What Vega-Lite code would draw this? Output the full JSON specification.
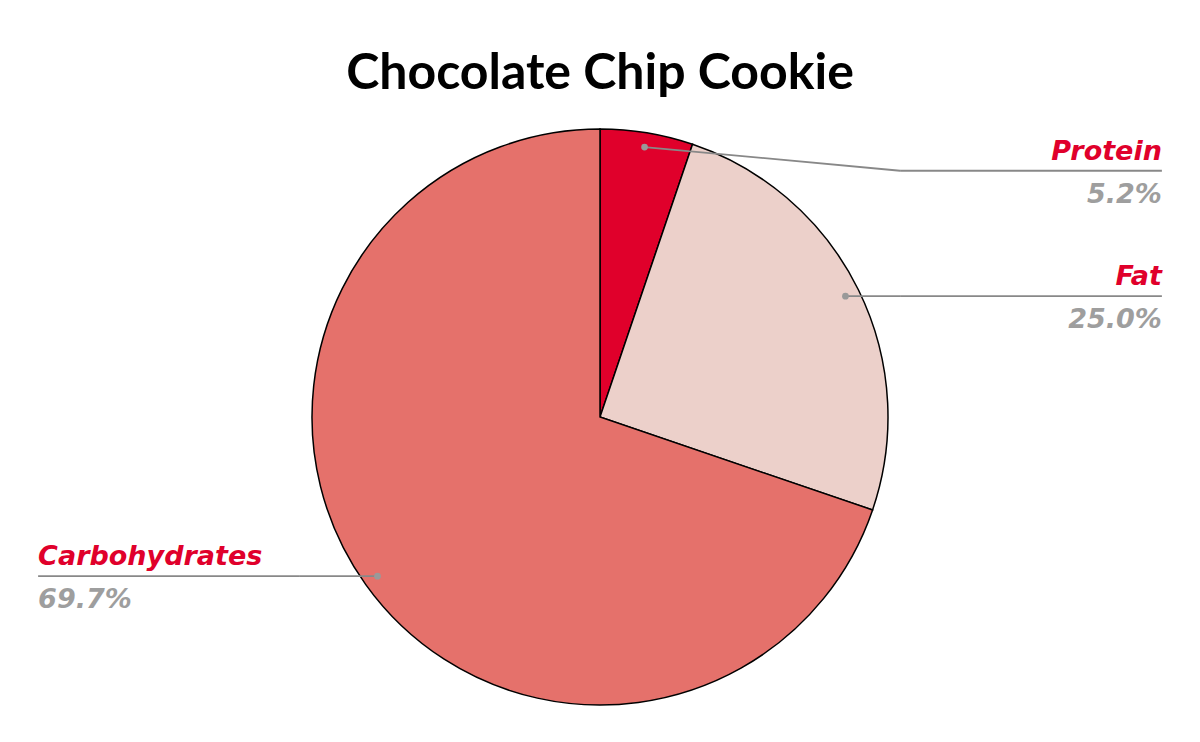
{
  "$schema": "https://vega.github.io/schema/vega-lite/v6.json",
  "width": 1200,
  "height": 742,
  "autosize": {"type": "fit", "contains": "padding"},
  "padding": {"top": 49, "left": 0, "right": 0, "bottom": 8},
  "background": "white",
  "title": {
    "text": "Chocolate Chip Cookie",
    "font": "Comic Sans MS, Lato",
    "fontSize": 50,
    "fontWeight": "bold",
    "color": "black",
    "anchor": "middle",
    "offset": 1
  },
  "config": {"view": {"stroke": null}},
  "data": {
    "values": [
      {"name": "Protein", "share": 0.052, "rank": 1},
      {"name": "Fat", "share": 0.25, "rank": 2},
      {"name": "Carbohydrates", "share": 0.697, "rank": 3}
    ]
  },
  "transform": [
    {"joinaggregate": [{"op": "sum", "field": "share", "as": "total"}]},
    {"window": [{"op": "sum", "field": "share", "as": "cum"}], "sort": [{"field": "rank"}], "frame": [null, 0]},
    {"calculate": "2*PI*(datum.cum - datum.share/2)/datum.total", "as": "mid"},
    {"calculate": "0.95*sin(datum.mid)", "as": "dotX"},
    {"calculate": "0.95*cos(datum.mid)", "as": "dotY"},
    {"calculate": "datum.dotX >= 0 ? 1 : -1", "as": "side"},
    {"calculate": "min(datum.dotY, 0.855)", "as": "lineY"},
    {"calculate": "datum.side*1.042", "as": "bendX"},
    {"calculate": "datum.side*1.951", "as": "endX"}
  ],
  "layer": [
    {
      "mark": {"type": "arc", "outerRadius": 288, "stroke": "black", "strokeWidth": 1.5},
      "encoding": {
        "theta": {"field": "share", "type": "quantitative", "stack": true},
        "order": {"field": "rank"},
        "color": {
          "field": "name",
          "type": "nominal",
          "scale": {"domain": ["Protein", "Fat", "Carbohydrates"], "range": ["#e0002b", "#ecd0ca", "#e5716b"]},
          "legend": null
        },
        "x": {"datum": 0, "type": "quantitative", "axis": null,
              "scale": {"domainMin": {"expr": "-width/2/288"}, "domainMax": {"expr": "width/2/288"}, "nice": false, "zero": false}},
        "y": {"datum": 0, "type": "quantitative", "axis": null,
              "scale": {"domainMin": {"expr": "-height/2/288"}, "domainMax": {"expr": "height/2/288"}, "nice": false, "zero": false}}
      }
    },
    {
      "mark": {"type": "rule", "color": "#888888", "strokeWidth": 1.8},
      "encoding": {
        "x": {"field": "dotX", "type": "quantitative", "axis": null},
        "y": {"field": "dotY", "type": "quantitative", "axis": null},
        "x2": {"field": "bendX"},
        "y2": {"field": "lineY"}
      }
    },
    {
      "mark": {"type": "rule", "color": "#888888", "strokeWidth": 1.8},
      "encoding": {
        "x": {"field": "bendX", "type": "quantitative", "axis": null},
        "y": {"field": "lineY", "type": "quantitative", "axis": null},
        "x2": {"field": "endX"}
      }
    },
    {
      "mark": {"type": "point", "filled": true, "color": "#999999", "size": 45, "opacity": 1},
      "encoding": {
        "x": {"field": "dotX", "type": "quantitative", "axis": null},
        "y": {"field": "dotY", "type": "quantitative", "axis": null}
      }
    },
    {
      "transform": [{"filter": "datum.side > 0"}],
      "mark": {"type": "text", "align": "right", "baseline": "alphabetic", "dy": -11, "font": "DejaVu Sans", "fontSize": 27, "fontWeight": "bold", "fontStyle": "italic", "color": "#e0002b"},
      "encoding": {
        "x": {"field": "endX", "type": "quantitative", "axis": null},
        "y": {"field": "lineY", "type": "quantitative", "axis": null},
        "text": {"field": "name"}
      }
    },
    {
      "transform": [{"filter": "datum.side < 0"}],
      "mark": {"type": "text", "align": "left", "baseline": "alphabetic", "dy": -11, "font": "DejaVu Sans", "fontSize": 27, "fontWeight": "bold", "fontStyle": "italic", "color": "#e0002b"},
      "encoding": {
        "x": {"field": "endX", "type": "quantitative", "axis": null},
        "y": {"field": "lineY", "type": "quantitative", "axis": null},
        "text": {"field": "name"}
      }
    },
    {
      "transform": [{"filter": "datum.side > 0"}],
      "mark": {"type": "text", "align": "right", "baseline": "alphabetic", "dy": 32, "font": "DejaVu Sans", "fontSize": 27, "fontWeight": "bold", "fontStyle": "italic", "color": "#9e9e9e"},
      "encoding": {
        "x": {"field": "endX", "type": "quantitative", "axis": null},
        "y": {"field": "lineY", "type": "quantitative", "axis": null},
        "text": {"field": "share", "type": "quantitative", "format": ".1%"}
      }
    },
    {
      "transform": [{"filter": "datum.side < 0"}],
      "mark": {"type": "text", "align": "left", "baseline": "alphabetic", "dy": 32, "font": "DejaVu Sans", "fontSize": 27, "fontWeight": "bold", "fontStyle": "italic", "color": "#9e9e9e"},
      "encoding": {
        "x": {"field": "endX", "type": "quantitative", "axis": null},
        "y": {"field": "lineY", "type": "quantitative", "axis": null},
        "text": {"field": "share", "type": "quantitative", "format": ".1%"}
      }
    }
  ]
}
